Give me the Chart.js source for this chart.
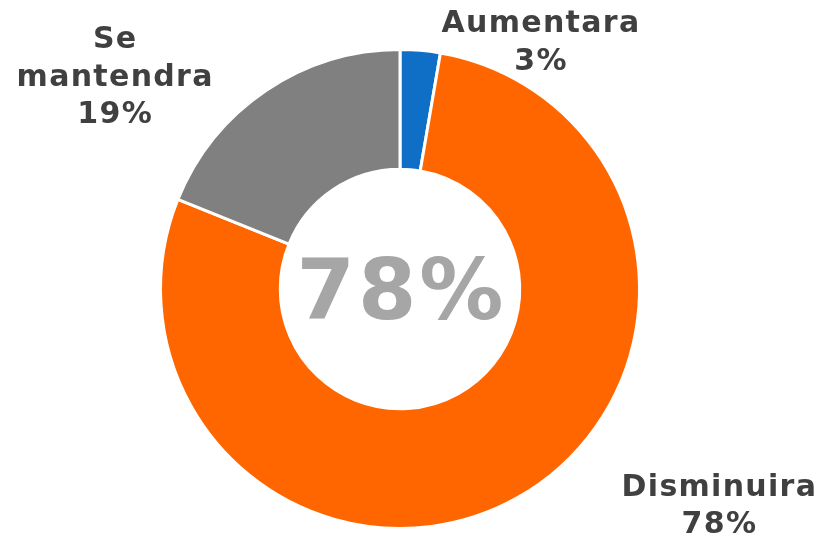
<!DOCTYPE html>
<html>
<head>
<meta charset="utf-8">
<script src="https://cdn.jsdelivr.net/npm/chart.js@4"></script>
<style>
  html, body { margin: 0; padding: 0; background: #ffffff; }
  #grafico { width: 823px; height: 538px; }
</style>
</head>
<body>
<div id="grafico"><canvas id="graficoDona"></canvas></div>
<script>
const categorias = ['Aumentara', 'Disminuira', 'Se mantendra'];
const valores = [2.7, 78.4, 18.9];
const rotulos = ['3%', '78%', '19%'];
const textoCentral = '78%';

const cores = ['#0f6fc6', '#ff6600', '#808080'];

// deslocamento dos rótulos em relação ao centro, em múltiplos do raio externo
const posRotulos = [
    { dx: 0.586, dy: -1.04 },
    { dx: 1.331, dy: 0.895 },
    { dx: -1.192, dy: -0.895 }
];

const pluginRotulos = {
    id: 'rotulos',
    afterDraw(chart) {
        const ctx = chart.ctx;
        const arcs = chart.getDatasetMeta(0).data;
        if (!arcs.length) return;
        const cx = arcs[0].x, cy = arcs[0].y, r = arcs[0].outerRadius;
        ctx.save();
        ctx.textAlign = 'center';
        ctx.textBaseline = 'alphabetic';

        // texto do centro
        ctx.fillStyle = '#a6a6a6';
        ctx.font = 'bold 84px "DejaVu Sans"';
        ctx.letterSpacing = '3px';
        ctx.fillText(textoCentral, cx + 1.5, cy + 30);

        // rótulos das fatias
        ctx.fillStyle = '#404040';
        ctx.font = 'bold 30px "DejaVu Sans"';
        ctx.letterSpacing = '1.3px';
        const alturaLinha = 37.5;
        categorias.forEach((cat, i) => {
            const linhas = cat.split(' ').concat([rotulos[i]]);
            const x = cx + posRotulos[i].dx * r + 0.65;
            const yc = cy + posRotulos[i].dy * r;
            const y0 = yc - (linhas.length - 1) * alturaLinha / 2;
            linhas.forEach((l, j) => {
                ctx.fillText(l, x, y0 + j * alturaLinha + 11);
            });
        });
        ctx.restore();
    }
};

const dadosDona = {
    labels: categorias,
    datasets: [{
        data: valores,
        backgroundColor: cores,
        borderColor: '#ffffff',
        borderWidth: 3
    }]
};

const configDona = {
    type: 'doughnut',
    data: dadosDona,
    options: {
        responsive: true,
        maintainAspectRatio: false,
        animation: false,
        cutout: '50%',
        layout: { padding: { top: 48, bottom: 8, left: 150, right: 173 } },
        plugins: {
            legend: { display: false },
            tooltip: { enabled: false }
        }
    },
    plugins: [pluginRotulos]
};

new Chart(document.getElementById('graficoDona'), configDona);
</script>
</body>
</html>
